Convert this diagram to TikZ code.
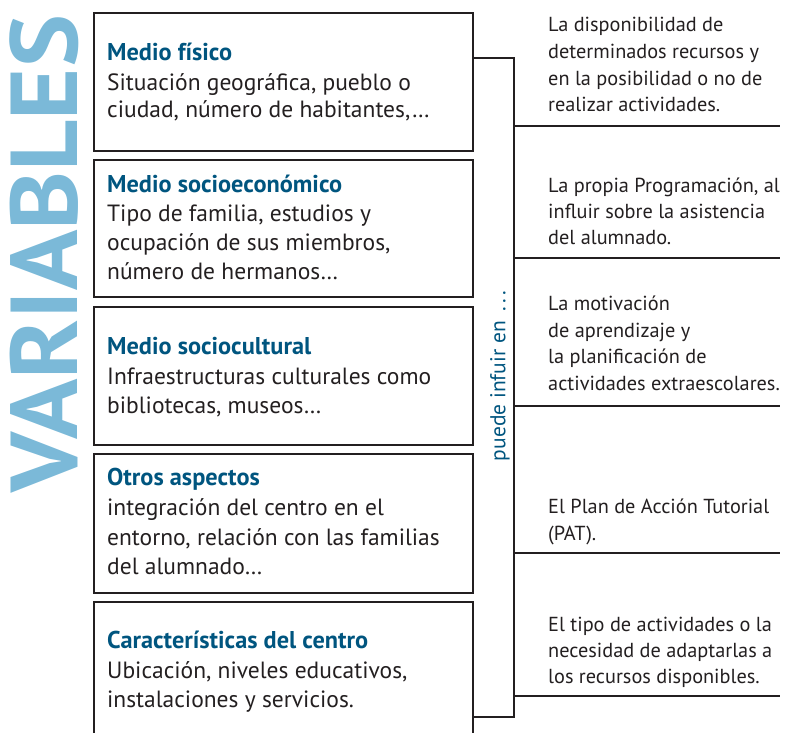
\documentclass[tikz,border=0pt]{standalone}
\usepackage{fontspec}
\setmainfont{PT Sans}
\definecolor{headblue}{HTML}{00557F}
\definecolor{varblue}{HTML}{7BB9D8}
\definecolor{ink}{HTML}{231F20}
\begin{document}
\begin{tikzpicture}[x=1pt,y=-1pt,
  box/.style={draw=ink, line width=2pt, inner sep=0pt, anchor=north west, minimum width=379pt},
  headtxt/.style={anchor=base west, inner sep=0pt, font=\fontsize{24.3}{28}\selectfont\bfseries, text=headblue},
  bodytxt/.style={anchor=base west, inner sep=0pt, font=\fontsize{23.5}{28}\selectfont, text=ink},
  rtxt/.style={anchor=base west, inner sep=0pt, font=\fontsize{20.3}{24}\selectfont, text=ink},
  rline/.style={draw=ink, line width=1.4pt},
  brline/.style={draw=ink, line width=1.6pt},
]
\useasboundingbox (0,0) rectangle (787,733);

% big vertical title
\node[rotate=90, inner sep=0pt, font=\fontsize{95}{100}\selectfont\bfseries, text=varblue] (var) at (44,254) {\scalebox{1.05}[1]{VARIABLES}};

% boxes
\node[box, minimum height=138pt] (b1) at (93,12) {};
\node[box, minimum height=137pt] (b2) at (93,159) {};
\node[box, minimum height=138pt] (b3) at (93,306) {};
\node[box, minimum height=139pt] (b4) at (93,453) {};
\node[box, minimum height=145pt] (b5) at (93,601) {};

% box 1
\node[headtxt] (h1) at (107,61) {Medio físico};
\foreach \t/\y [count=\i] in {{Situación geográfica, pueblo o}/91, {ciudad, número de habitantes,…}/118}
  \node[bodytxt] (t1\i) at (107,\y) {\t};
% box 2
\node[headtxt] (h2) at (107,192) {Medio socioeconómico};
\foreach \t/\y [count=\i] in {{Tipo de familia, estudios y}/221, {ocupación de sus miembros,}/250, {número de hermanos…}/279}
  \node[bodytxt] (t2\i) at (107,\y) {\t};
% box 3
\node[headtxt] (h3) at (107,354) {Medio sociocultural};
\foreach \t/\y [count=\i] in {{Infraestructuras culturales como}/384, {bibliotecas, museos…}/413}
  \node[bodytxt] (t3\i) at (107,\y) {\t};
% box 4
\node[headtxt] (h4) at (107,485) {Otros aspectos};
\foreach \t/\y [count=\i] in {{integración del centro en el}/515, {entorno, relación con las familias}/545, {del alumnado…}/574}
  \node[bodytxt] (t4\i) at (107,\y) {\t};
% box 5
\node[headtxt] (h5) at (107,648) {Características del centro};
\foreach \t/\y [count=\i] in {{Ubicación, niveles educativos,}/678, {instalaciones y servicios.}/707}
  \node[bodytxt] (t5\i) at (107,\y) {\t};

% bracket
\coordinate (br1) at (472,58);
\coordinate (br2) at (514,58);
\coordinate (br3) at (514,717);
\coordinate (br4) at (472,717);
\draw[brline] (br1) -- (br2) -- (br3) -- (br4);

\node[rotate=90, inner sep=0pt, font=\fontsize{21.5}{24}\selectfont, text=headblue] (lab) at (500,376) {puede infuir en \,.\,.\,.};

% right lines
\foreach \y [count=\i] in {126,258,406,553,696} {
  \coordinate (ra\i) at (514,\y);
  \coordinate (rb\i) at (780,\y);
  \draw[rline] (ra\i) -- (rb\i);
}

% right texts
\foreach \t/\y [count=\i] in {{La disponibilidad de}/32, {determinados recursos y}/59, {en la posibilidad o no de}/86, {realizar actividades.}/112}
  \node[rtxt] (r1\i) at (548,\y) {\t};
\foreach \t/\y [count=\i] in {{La propia Programación, al}/192, {influir sobre la asistencia}/218, {del alumnado.}/244}
  \node[rtxt] (r2\i) at (548,\y) {\t};
\foreach \t/\y [count=\i] in {{La motivación}/310, {de aprendizaje y}/337, {la planificación de}/363, {actividades extraescolares.}/390}
  \node[rtxt] (r3\i) at (548,\y) {\t};
\foreach \t/\y [count=\i] in {{El Plan de Acción Tutorial}/513, {(PAT).}/540}
  \node[rtxt] (r4\i) at (548,\y) {\t};
\foreach \t/\y [count=\i] in {{El tipo de actividades o la}/631, {necesidad de adaptarlas a}/657, {los recursos disponibles.}/683}
  \node[rtxt] (r5\i) at (548,\y) {\t};
\end{tikzpicture}
\end{document}
